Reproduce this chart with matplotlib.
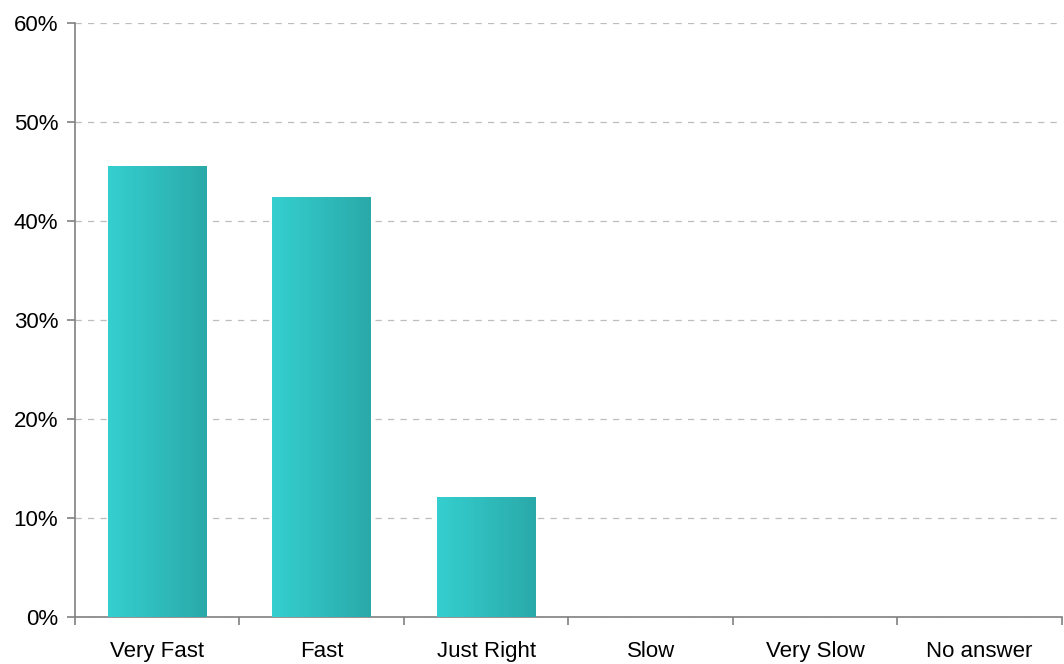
import numpy as np
import matplotlib.pyplot as plt
from matplotlib.colors import LinearSegmentedColormap

categories = ["Very Fast", "Fast", "Just Right", "Slow", "Very Slow", "No answer"]
shares = [45.5, 42.4, 12.1, 0, 0, 0]
yticks = [0, 10, 20, 30, 40, 50, 60]

plt.rcParams['font.family'] = ['Liberation Sans', 'DejaVu Sans']

fig = plt.figure(figsize=(10.64, 6.64), dpi=100)
ax = fig.add_axes([0.0705, 0.0708, 0.9275, 0.8946])

# horizontal gradient fill for the bars
grad = LinearSegmentedColormap.from_list("teal", ["#35CFCF", "#2AA9A9"])
ramp = np.linspace(0, 1, 256).reshape(1, -1)

width = 0.6
x = np.arange(len(categories))
for xi, v in zip(x, shares):
    if v <= 0:
        continue
    ax.imshow(ramp, cmap=grad, aspect="auto", interpolation="bicubic",
              extent=(xi - width / 2, xi + width / 2, 0, v), zorder=3)

ax.set_xlim(-0.5, len(categories) - 0.5)
ax.set_ylim(0, 60)

ax.set_yticks(yticks)
ax.set_yticklabels([f"{t}%" for t in yticks], fontsize=16, color="black")
ax.set_xticks(x)
ax.set_xticklabels(categories, fontsize=16, color="black")
ax.tick_params(axis="x", length=0, pad=17)
ax.tick_params(axis="y", length=6, width=1.2, color="#808080", pad=6)

# category separators on the x axis
ax.set_xticks(np.arange(-0.5, len(categories)), minor=True)
ax.tick_params(axis="x", which="minor", length=6, width=1.2, color="#808080",
               direction="out")

ax.grid(axis="y", linestyle=(0, (5, 5)), color="#BDBDBD", linewidth=0.9, zorder=0)
ax.set_axisbelow(True)

for side in ("top", "right"):
    ax.spines[side].set_visible(False)
for side in ("left", "bottom"):
    ax.spines[side].set_color("#808080")
    ax.spines[side].set_linewidth(1.2)

fig.savefig("out.png", dpi=100)
